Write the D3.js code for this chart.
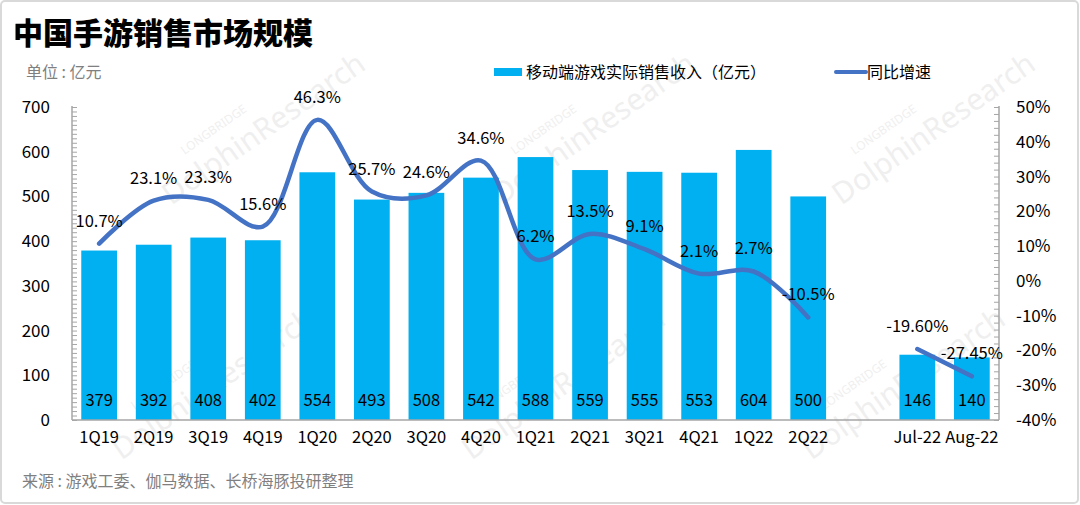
<!DOCTYPE html>
<html><head><meta charset="utf-8">
<script src="https://cdn.jsdelivr.net/npm/d3@7"></script>
<style>
html,body{margin:0;padding:0;background:#fff;}
svg{display:block;font-family:"Noto Sans CJK SC","Noto Sans",sans-serif;}
</style></head>
<body><svg id="c" width="1080" height="505"></svg>
<script>
const categories = ["1Q19","2Q19","3Q19","4Q19","1Q20","2Q20","3Q20","4Q20","1Q21","2Q21","3Q21","4Q21","1Q22","2Q22","","Jul-22","Aug-22"];
const revenue = [379,392,408,402,554,493,508,542,588,559,555,553,604,500,null,146,140];
const growth = [10.7,23.1,23.3,15.6,46.3,25.7,24.6,34.6,6.2,13.5,9.1,2.1,2.7,-10.5,null,-19.60,-27.45];
const growthLabels = ["10.7%","23.1%","23.3%","15.6%","46.3%","25.7%","24.6%","34.6%","6.2%","13.5%","9.1%","2.1%","2.7%","-10.5%","","-19.60%","-27.45%"];
const leftTicks = [0,100,200,300,400,500,600,700];
const rightTicks = [-40,-30,-20,-10,0,10,20,30,40,50];

const svg = d3.select("#c");
const L = 72, R = 999, T = 107, B = 420;
const barColor = "#00B0F0", lineColor = "#4472C4", axisColor = "#A6A6A6";

// frame
svg.append("rect").attr("x",1).attr("y",1).attr("width",1077).attr("height",502)
  .attr("rx",4).attr("fill","none").attr("stroke","#D9D9D9").attr("stroke-width",2);

// faint watermark
const wm = svg.append("g").attr("fill","#EFEFEF").attr("pointer-events","none");
[[230,150],[560,150],[900,150],[180,405],[530,405],[870,405]].forEach(([cx,cy])=>{
  const g = wm.append("g").attr("transform",`translate(${cx},${cy}) rotate(-35)`);
  g.append("text").attr("x",-40).attr("y",-22).attr("font-size",12).attr("font-family","Noto Sans").text("LONGBRIDGE");
  g.append("text").attr("x",-80).attr("y",12).attr("font-size",30).attr("font-family","Noto Sans").text("DolphinResearch");
});

const x = d3.scaleBand().domain(d3.range(categories.length)).range([L,R]).paddingInner(0.345).paddingOuter(0.17);
const yL = d3.scaleLinear().domain([0,700]).range([B,T]);
const yR = d3.scaleLinear().domain([-40,50]).range([B,T]);

// title
svg.append("text").attr("x",13).attr("y",44).attr("font-size",30).attr("font-weight",900)
  .attr("fill","#000").text("中国手游销售市场规模");
svg.append("text").attr("x",26).attr("y",78).attr("font-size",16).attr("fill","#7F7F7F").text("单位 : 亿元");

// legend
svg.append("rect").attr("x",494).attr("y",68).attr("width",28).attr("height",8).attr("fill",barColor);
svg.append("text").attr("x",526).attr("y",78).attr("font-size",16).attr("fill","#000").text("移动端游戏实际销售收入（亿元）");
svg.append("line").attr("x1",836).attr("x2",866).attr("y1",72).attr("y2",72).attr("stroke",lineColor).attr("stroke-width",4).attr("stroke-linecap","round");
svg.append("text").attr("x",867).attr("y",78).attr("font-size",16).attr("fill","#000").text("同比增速");

// bars
const idx = d3.range(categories.length).filter(i => revenue[i] != null);
svg.append("g").selectAll("rect").data(idx).join("rect")
  .attr("x", i => x(i)).attr("width", x.bandwidth())
  .attr("y", i => yL(revenue[i])).attr("height", i => B - yL(revenue[i]))
  .attr("fill", barColor);
svg.append("g").selectAll("text").data(idx).join("text")
  .attr("x", i => x(i) + x.bandwidth()/2).attr("y", 406)
  .attr("text-anchor","middle").attr("font-size",16.5).attr("fill","#000")
  .text(i => revenue[i]);

// axes
const gL = svg.append("g").attr("transform",`translate(${L},0)`)
  .call(d3.axisLeft(yL).tickValues(d3.range(0,701,10)).tickSize(-5).tickFormat(""));
gL.select(".domain").remove();
gL.selectAll("line").attr("stroke",axisColor);
svg.append("g").selectAll("text").data(leftTicks).join("text")
  .attr("x",50).attr("y",d=>yL(d)+6).attr("text-anchor","end").attr("font-size",17).attr("fill","#000").text(d=>d);

const gR = svg.append("g").attr("transform",`translate(${R},0)`)
  .call(d3.axisRight(yR).tickValues(d3.range(-40,51,2)).tickSize(-5).tickFormat(""));
gR.select(".domain").remove();
gR.selectAll("line").attr("stroke",axisColor);
svg.append("g").selectAll("text").data(rightTicks).join("text")
  .attr("x",1016).attr("y",d=>yR(d)+6).attr("text-anchor","start").attr("font-size",17).attr("fill","#000").text(d=>d+"%");

svg.append("line").attr("x1",L).attr("x2",L).attr("y1",T-1).attr("y2",B).attr("stroke",axisColor).attr("stroke-width",1.5);
svg.append("line").attr("x1",R).attr("x2",R).attr("y1",T-1).attr("y2",B).attr("stroke",axisColor).attr("stroke-width",1.5);
svg.append("line").attr("x1",L).attr("x2",R).attr("y1",B).attr("y2",B).attr("stroke",axisColor).attr("stroke-width",1.5);

// x labels
svg.append("g").selectAll("text").data(d3.range(categories.length)).join("text")
  .attr("x", i => x(i) + x.bandwidth()/2).attr("y", 443)
  .attr("text-anchor","middle").attr("font-size",16.5).attr("fill","#000")
  .text(i => categories[i]);

// line
const line = d3.line().defined(i => growth[i] != null)
  .x(i => x(i) + x.bandwidth()/2).y(i => yR(growth[i]))
  .curve(d3.curveCatmullRom.alpha(0.5));
svg.append("path").datum(d3.range(categories.length)).attr("d", line)
  .attr("fill","none").attr("stroke",lineColor).attr("stroke-width",4.5).attr("stroke-linecap","round");

svg.append("g").selectAll("text").data(idx).join("text")
  .attr("x", i => x(i) + x.bandwidth()/2).attr("y", i => yR(growth[i]) - 17)
  .attr("text-anchor","middle").attr("font-size",16.5).attr("fill","#000")
  .text(i => growthLabels[i]);

// source
svg.append("text").attr("x",22).attr("y",487).attr("font-size",16).attr("fill","#7F7F7F")
  .text("来源 : 游戏工委、伽马数据、长桥海豚投研整理");
</script></body></html>
